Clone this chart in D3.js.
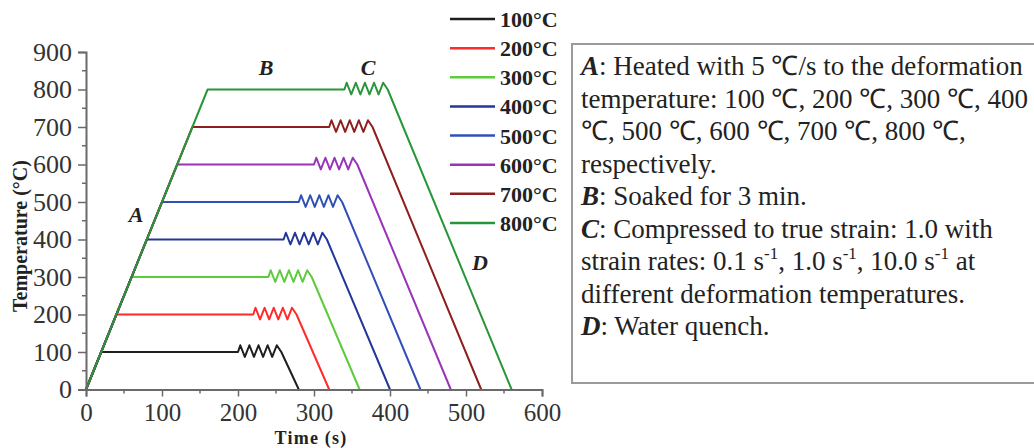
<!DOCTYPE html>
<html>
<head>
<meta charset="utf-8">
<script src="https://cdn.jsdelivr.net/npm/d3@7"></script>
<style>
  html, body { margin: 0; padding: 0; background: #fff; }
  svg { display: block; font-family: "Liberation Serif", "Times New Roman", serif; }
</style>
</head>
<body>
<svg id="chart" width="1034" height="448"></svg>
<script>
// deformation temperatures and legend
const seriesNames = ['100°C', '200°C', '300°C', '400°C', '500°C', '600°C', '700°C', '800°C'];
const tempLevels = [100, 200, 300, 400, 500, 600, 700, 800];
const seriesColors = ['#1e1e1e', '#ff2a2a', '#5ccb3c', '#23379a', '#3050b8', '#9933b8', '#8e1f1f', '#279638'];

// time (s) where heating ends, compression starts, quench ends
const heatEnd = [20, 40, 60, 80, 100, 120, 140, 160];
const zigStart = [200, 220, 240, 260, 280, 300, 320, 340];
const quenchEnd = [280, 320, 360, 400, 440, 480, 520, 560];

// zigzag shape of the compression step (time offset s, temperature offset °C)
const zigDt = [0, 3, 9, 15, 21, 27, 33, 39, 45, 51, 57];
const zigDT = [0, 18, -13, 18, -13, 18, -13, 18, -13, 18, 0];

const xTicks = [0, 100, 200, 300, 400, 500, 600];
const yTicks = [0, 100, 200, 300, 400, 500, 600, 700, 800, 900];

const svg = d3.select('#chart');
const serif = '"Liberation Serif", "Times New Roman", serif';

const x = d3.scaleLinear().domain([0, 600]).range([86, 542]);
const y = d3.scaleLinear().domain([0, 900]).range([389.5, 52]);

// build each curve
const curves = tempLevels.map((T, i) => {
  const pts = [[0, 0], [heatEnd[i], T]];
  zigDt.forEach((dt, j) => pts.push([zigStart[i] + dt, T + zigDT[j]]));
  pts.push([quenchEnd[i], 0]);
  return { name: seriesNames[i], color: seriesColors[i], pts };
});

const line = d3.line().x(d => x(d[0])).y(d => y(d[1]));

svg.append('g').selectAll('path')
  .data(curves)
  .enter()
  .append('path')
  .attr('d', d => line(d.pts))
  .attr('fill', 'none')
  .attr('stroke', d => d.color)
  .attr('stroke-width', 2)
  .attr('stroke-linejoin', 'round');

// axes
const axisColor = '#6a6a6a';
const yAxis = svg.append('g')
  .attr('transform', `translate(${x(0)},0)`)
  .call(d3.axisLeft(y).tickValues(yTicks).tickSize(8).tickPadding(6));
const xAxis = svg.append('g')
  .attr('transform', `translate(0,${y(0)})`)
  .call(d3.axisBottom(x).tickValues(xTicks).tickSize(7).tickPadding(7));

// minor ticks
const minorY = d3.range(50, 900, 100);
const minorX = d3.range(50, 600, 100);
svg.append('g').selectAll('line').data(minorY).enter().append('line')
  .attr('x1', x(0) - 4).attr('x2', x(0))
  .attr('y1', d => y(d)).attr('y2', d => y(d))
  .attr('stroke', axisColor).attr('stroke-width', 1.5);
svg.append('g').selectAll('line').data(minorX).enter().append('line')
  .attr('x1', d => x(d)).attr('x2', d => x(d))
  .attr('y1', y(0)).attr('y2', y(0) + 4)
  .attr('stroke', axisColor).attr('stroke-width', 1.5);

[xAxis, yAxis].forEach(g => {
  g.attr('font-family', serif).attr('font-size', 26);
  g.select('.domain').attr('stroke', axisColor).attr('stroke-width', 2);
  g.selectAll('.tick line').attr('stroke', axisColor).attr('stroke-width', 1.5);
  g.selectAll('.tick text').attr('fill', '#333');
});
xAxis.attr('font-size', 25);

// axis titles
svg.append('text')
  .attr('x', 311).attr('y', 444)
  .attr('text-anchor', 'middle')
  .attr('font-weight', 'bold')
  .attr('font-size', 18)
  .attr('letter-spacing', 1.2)
  .attr('fill', '#222')
  .text('Time (s)');

svg.append('text')
  .attr('transform', 'translate(27,236) rotate(-90)')
  .attr('text-anchor', 'middle')
  .attr('font-weight', 'bold')
  .attr('font-size', 20)
  .attr('fill', '#222')
  .text('Temperature (°C)');

// stage letters
const stageLabels = ['A', 'B', 'C', 'D'];
const stagePos = [[136, 222], [266, 75], [368, 75], [480, 270]];
svg.append('g').selectAll('text')
  .data(stageLabels)
  .enter()
  .append('text')
  .attr('x', (d, i) => stagePos[i][0])
  .attr('y', (d, i) => stagePos[i][1])
  .attr('text-anchor', 'middle')
  .attr('font-weight', 'bold')
  .attr('font-style', 'italic')
  .attr('font-size', 22)
  .attr('fill', '#222')
  .text(d => d);

// legend
const legendY = d3.scalePoint().domain(seriesNames).range([19, 223]);
const legend = svg.append('g');
curves.forEach(c => {
  const ly = legendY(c.name);
  legend.append('line')
    .attr('x1', 450).attr('x2', 495)
    .attr('y1', ly).attr('y2', ly)
    .attr('stroke', c.color).attr('stroke-width', 2.5);
  legend.append('text')
    .attr('x', 500).attr('y', ly + 8)
    .attr('font-weight', 'bold')
    .attr('font-size', 22)
    .attr('fill', '#222')
    .text(c.name);
});

// description box
svg.append('rect')
  .attr('x', 572).attr('y', 44)
  .attr('width', 520).attr('height', 339)
  .attr('fill', 'none')
  .attr('stroke', '#9a9a9a')
  .attr('stroke-width', 2);

const boxLines = [
  [['A', 'b'], [': Heated with 5 ℃/s to the deformation']],
  [['temperature: 100 ℃, 200 ℃, 300 ℃, 400']],
  [['℃, 500 ℃, 600 ℃, 700 ℃, 800 ℃,']],
  [['respectively.']],
  [['B', 'b'], [': Soaked for 3 min.']],
  [['C', 'b'], [': Compressed to true strain: 1.0 with']],
  [['strain rates: 0.1 s'], ['-1', 's'], [', 1.0 s'], ['-1', 's'], [', 10.0 s'], ['-1', 's'], [' at']],
  [['different deformation temperatures.']],
  [['D', 'b'], [': Water quench.']]
];

const box = svg.append('g')
  .attr('font-size', 27)
  .attr('fill', '#222');
boxLines.forEach((parts, i) => {
  const t = box.append('text')
    .attr('x', 581)
    .attr('y', 75 + i * 32.5)
    .attr('xml:space', 'preserve');
  let prevSup = false;
  parts.forEach(p => {
    const span = t.append('tspan').text(p[0]);
    const isSup = p[1] === 's';
    if (p[1] === 'b') span.attr('font-weight', 'bold').attr('font-style', 'italic');
    if (isSup) span.attr('font-size', 17).attr('dy', -11);
    else if (prevSup) span.attr('dy', 11);
    prevSup = isSup;
  });
});
</script>
</body>
</html>
